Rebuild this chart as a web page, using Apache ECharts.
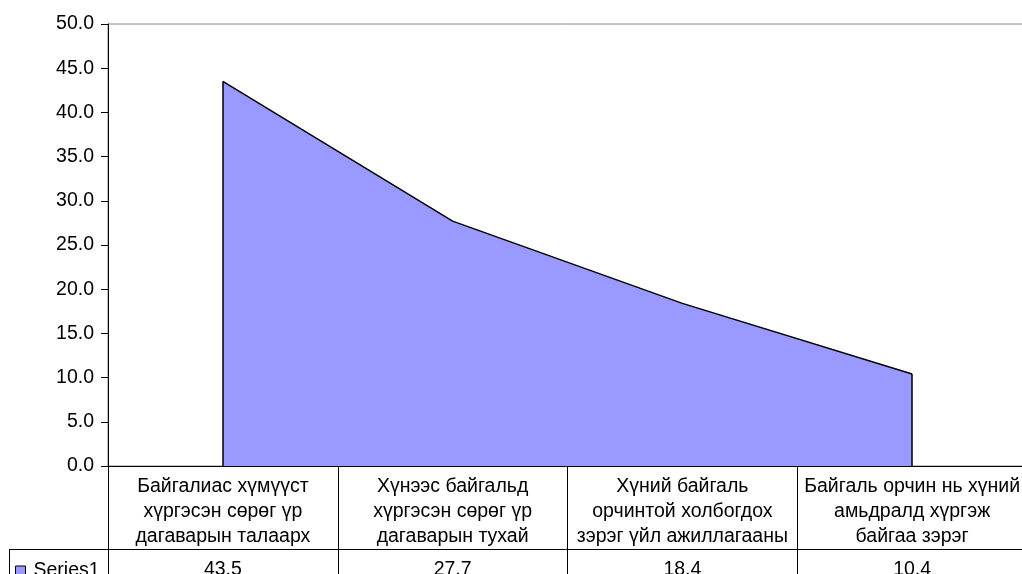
<!DOCTYPE html>
<html>
<head>
<meta charset="utf-8">
<script src="https://cdn.jsdelivr.net/npm/echarts@6/dist/echarts.min.js"></script>
<style>
html,body{margin:0;padding:0;background:#fff;}
#chart{width:1022px;height:574px;}
</style>
</head>
<body>
<div id="chart"></div>
<script>
const categories = [
  "Байгалиас хүмүүст\nхүргэсэн сөрөг үр\nдагаварын талаарх",
  "Хүнээс байгальд\nхүргэсэн сөрөг үр\nдагаварын тухай",
  "Хүний байгаль\nорчинтой холбогдох\nзэрэг үйл ажиллагааны",
  "Байгаль орчин нь хүний\nамьдралд хүргэж\nбайгаа зэрэг"
];
const seriesName = "Series1";
const values = [43.5, 27.7, 18.4, 10.4];
const yMin = 0, yMax = 50, yStep = 5;

const FONT = "Liberation Sans, Arial, sans-serif";
const FS = 19.5;
const chart = echarts.init(document.getElementById('chart'));
const last = values.length - 1;

chart.setOption({
  animation: false,
  backgroundColor: '#fff',
  textStyle: { fontFamily: FONT },
  grid: {
    left: 108, right: -5, top: 24, bottom: 108,
    show: true, borderColor: '#888', borderWidth: 1,
    containLabel: false, outerBoundsMode: 'none'
  },
  legend: {
    data: [seriesName],
    left: 15, top: 561,
    icon: 'rect', itemWidth: 10, itemHeight: 10, itemGap: 4,
    padding: 0,
    itemStyle: { color: '#9999FF', borderColor: '#000', borderWidth: 1 },
    textStyle: { fontFamily: FONT, fontSize: FS, color: '#000', padding: [0, 0, 0, 3] }
  },
  xAxis: [
    {
      type: 'category',
      data: categories,
      boundaryGap: true,
      axisLine: { show: true, lineStyle: { color: '#000', width: 1 } },
      axisTick: { show: true, interval: 0, length: 130, lineStyle: { color: '#000', width: 1 } },
      axisLabel: {
        interval: 0, margin: 8, color: '#000', fontFamily: FONT,
        fontSize: FS, lineHeight: 25, align: 'center'
      },
      splitLine: { show: false }
    },
    {
      type: 'category',
      data: values.map(v => v.toFixed(1)),
      position: 'bottom',
      offset: 83,
      boundaryGap: true,
      axisLine: { show: true, lineStyle: { color: '#000', width: 1 } },
      axisTick: { show: false },
      axisLabel: { interval: 0, margin: 11, color: '#000', fontFamily: FONT, fontSize: FS },
      splitLine: { show: false }
    }
  ],
  yAxis: {
    type: 'value',
    min: yMin, max: yMax, interval: yStep,
    axisLine: { show: true, lineStyle: { color: '#000', width: 1 } },
    axisTick: { show: true, length: 7, lineStyle: { color: '#000' } },
    axisLabel: {
      margin: 14, color: '#000', fontFamily: FONT, fontSize: FS,
      formatter: v => v.toFixed(1)
    },
    splitLine: { show: false }
  },
  series: [{
    name: seriesName,
    type: 'line',
    data: values,
    symbol: 'none',
    itemStyle: { color: '#9999FF' },
    lineStyle: { color: '#000', width: 1.5 },
    areaStyle: { color: '#9999FF', opacity: 1 },
    z: 3,
    markLine: {
      silent: true,
      symbol: 'none',
      label: { show: false },
      lineStyle: { color: '#000', width: 1.5, type: 'solid' },
      data: [
        [{ coord: [0, yMin] }, { coord: [0, values[0]] }],
        [{ coord: [last, yMin] }, { coord: [last, values[last]] }]
      ]
    }
  }],
  graphic: [
    { type: 'line', shape: { x1: 9, y1: 549.5, x2: 108, y2: 549.5 }, style: { stroke: '#000', lineWidth: 1 }, silent: true },
    { type: 'line', shape: { x1: 9.5, y1: 549, x2: 9.5, y2: 574 }, style: { stroke: '#000', lineWidth: 1 }, silent: true }
  ]
});
</script>
</body>
</html>
